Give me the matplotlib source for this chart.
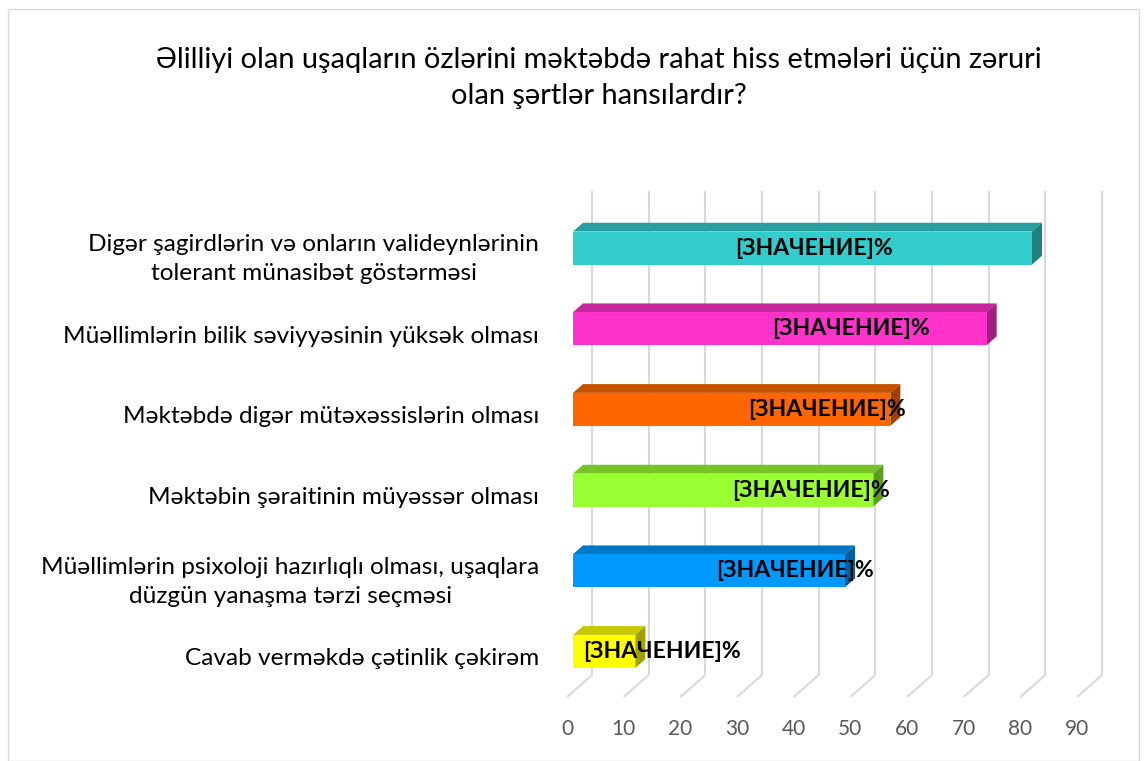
import matplotlib
matplotlib.use("Agg")
import matplotlib.pyplot as plt
from matplotlib.patches import Polygon, Rectangle

# ---------------- data ----------------
title_lines = ["Əlilliyi olan uşaqların özlərini məktəbdə rahat hiss etmələri üçün zəruri",
               "olan şərtlər hansılardır?"]
categories = ["Digər şagirdlərin və onların valideynlərinin\ntolerant münasibət göstərməsi",
              "Müəllimlərin bilik səviyyəsinin yüksək olması",
              "Məktəbdə digər mütəxəssislərin olması",
              "Məktəbin şəraitinin müyəssər olması",
              "Müəllimlərin psixoloji hazırlıqlı olması, uşaqlara\ndüzgün yanaşma tərzi seçməsi",
              "Cavab verməkdə çətinlik çəkirəm"]
values = [81, 73, 56, 53, 48, 11]
label_text = "[ЗНАЧЕНИЕ]%"
label_pos = [42.5, 49.0, 44.8, 42.0, 39.1, 15.7]   # where the data labels sit (value units)
x_ticks = [0, 10, 20, 30, 40, 50, 60, 70, 80, 90]

front_colors = ["#33CCCC", "#FF33CC", "#FF6600", "#99FF33", "#0099FF", "#FFFF00"]
top_colors   = ["#2A9E9E", "#C4279C", "#C45000", "#77C428", "#0077C4", "#C8C800"]
side_colors  = ["#1F8080", "#A01F80", "#A04000", "#5E9E1F", "#005F9E", "#A0A000"]

FONT = ["Lato", "DejaVu Sans"]
plt.rcParams["font.family"] = FONT

W, H = 1145, 761
fig = plt.figure(figsize=(W / 100, H / 100), dpi=100)

# front plane of the plot area in pixels
L, R, T, B = 567, 1077, 213, 697
ax = fig.add_axes([L / W, (H - B) / H, (R - L) / W, (B - T) / H])
ax.set_xlim(0, 90)
n = len(categories)
ax.set_ylim(0, n)
for s in ax.spines.values():
    s.set_visible(False)
ax.patch.set_visible(False)

ux = 90 / (R - L)       # data units per pixel (x)
uy = n / (B - T)        # data units per pixel (y)
DX, DY = 25, 22         # full depth offset in pixels


def off(d):
    return d * DX * ux, d * DY * uy


grid_c = "#D9D9D9"
fx, fy = off(1.0)
for xv in x_ticks:
    # back wall gridline
    ax.plot([xv + fx, xv + fx], [0 + fy, n + fy], color=grid_c, lw=1.5,
            zorder=1, clip_on=False, solid_capstyle="butt")
    # floor gridline
    ax.plot([xv, xv + fx], [0, fy], color=grid_c, lw=1.5, zorder=1,
            clip_on=False, solid_capstyle="butt")

# bars (3D boxes)
d1, d2 = 0.24, 0.64
bh = 33 * uy
for k, v in enumerate(values):
    yc = n - 1 - k + 0.5
    ox1, oy1 = off(d1)
    ox2, oy2 = off(d2)
    y0, y1 = yc - bh / 2 + oy1, yc + bh / 2 + oy1
    x0, x1 = 0 + ox1, v + ox1
    ddx, ddy = ox2 - ox1, oy2 - oy1
    top = Polygon([(x0, y1), (x1, y1), (x1 + ddx, y1 + ddy), (x0 + ddx, y1 + ddy)],
                  closed=True, fc=top_colors[k], ec="none", zorder=3, clip_on=False)
    side = Polygon([(x1, y0), (x1 + ddx, y0 + ddy), (x1 + ddx, y1 + ddy), (x1, y1)],
                   closed=True, fc=side_colors[k], ec="none", zorder=3, clip_on=False)
    front = Rectangle((x0, y0), v, bh, fc=front_colors[k], ec="none", zorder=4,
                      clip_on=False)
    ax.add_patch(top)
    ax.add_patch(side)
    ax.add_patch(front)
    ax.text(label_pos[k] + ox1, yc + oy1, label_text, ha="center", va="center",
            fontsize=16.6, fontweight="bold", color="black", zorder=6,
            family=FONT, clip_on=False)

# axes ticks
ax.set_xticks(x_ticks)
ax.set_xticklabels([str(t) for t in x_ticks])
ax.tick_params(axis="x", length=0, pad=16, labelsize=15, labelcolor="#595959")
ax.set_yticks([n - 1 - k + 0.5 for k in range(n)])
ax.set_yticklabels(categories)
ax.tick_params(axis="y", length=0, pad=20, labelsize=17.6, labelcolor="#000000")
for t in ax.get_yticklabels():
    t.set_multialignment("center")
    t.set_linespacing(1.45)

# title
fig.text(599 / W, 1 - 78 / H, "\n".join(title_lines), ha="center", va="center",
         fontsize=20.9, color="black", linespacing=1.5, multialignment="center")

# chart border
fig.patches.append(Rectangle((8 / W, 0.5 / H), (W - 14) / W, (H - 9) / H,
                             transform=fig.transFigure, fill=False,
                             ec="#D9D9D9", lw=1.0))

fig.savefig("out.png", dpi=100, facecolor="white")
